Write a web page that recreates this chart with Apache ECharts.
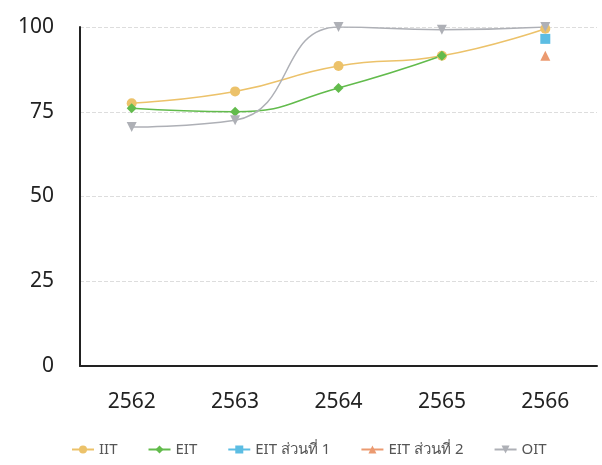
<!DOCTYPE html>
<html>
<head>
<meta charset="utf-8">
<script src="https://cdn.jsdelivr.net/npm/echarts@6/dist/echarts.min.js"></script>
<style>
  html, body { margin: 0; padding: 0; background: #fff; }
  #chart { width: 602px; height: 465px; }
</style>
</head>
<body>
<div id="chart"></div>
<script>
  // data
  const years = ["2562", "2563", "2564", "2565", "2566"];
  const iit = [77.5, 81, 88.5, 91.5, 99.5];
  const eit = [76, 75, 82, 91.5, null];
  const eitPart1 = [null, null, null, null, 96.5];
  const eitPart2 = [null, null, null, null, 91.5];
  const oit = [70.5, 72.5, 100, 99.2, 100];

  const names = ["IIT", "EIT", "EIT ส่วนที่ 1", "EIT ส่วนที่ 2", "OIT"];
  const colors = ["#ecc26a", "#62bb4c", "#5cbde3", "#eb9a70", "#aeb0b6"];
  const symbols = ["circle", "diamond", "rect", "triangle", "triangle"];
  const values = [iit, eit, eitPart1, eitPart2, oit];

  const myChart = echarts.init(document.getElementById("chart"));

  const seriesList = names.map((name, i) => ({
    name: name,
    type: "line",
    smooth: true,
    data: values[i],
    symbol: symbols[i],
    symbolSize: 10,
    symbolRotate: i === 4 ? 180 : 0,
    itemStyle: { color: colors[i] },
    lineStyle: { width: 1.5, color: colors[i] }
  }));

  const option = {
    animation: false,
    textStyle: { fontFamily: "'Noto Sans', sans-serif" },
    grid: { left: 80, right: 5, top: 27, bottom: 99 },
    legend: {
      left: 66,
      top: 437,
      itemGap: 30,
      itemWidth: 22,
      itemHeight: 10,
      textStyle: { color: "#555", fontSize: 15 },
      data: names
    },
    xAxis: {
      type: "category",
      data: years,
      axisLine: { lineStyle: { color: "#222", width: 2 } },
      axisTick: { show: false },
      axisLabel: { color: "#222", fontSize: 21, margin: 26 }
    },
    yAxis: {
      type: "value",
      min: 0,
      max: 100,
      interval: 25,
      axisLine: { show: true, lineStyle: { color: "#222", width: 2 } },
      axisTick: { show: false },
      axisLabel: { color: "#222", fontSize: 21, margin: 26 },
      splitLine: { lineStyle: { color: "#ddd", type: "dashed" } }
    },
    series: seriesList
  };

  myChart.setOption(option);
</script>
</body>
</html>
